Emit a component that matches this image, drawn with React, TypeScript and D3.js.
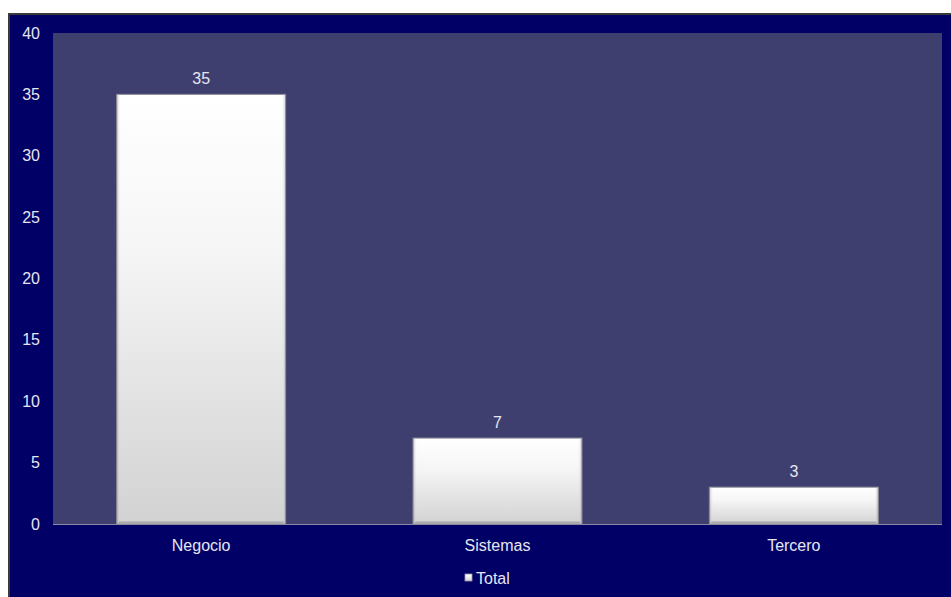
import React from "react";
import * as d3 from "d3";

const categories = ["Negocio", "Sistemas", "Tercero"];
const values = [35, 7, 3];
const yTicks = [0, 5, 10, 15, 20, 25, 30, 35, 40];
const seriesName = "Total";

const W = 951;
const H = 597;
const plot = { left: 53, right: 942, top: 33, bottom: 524 };
const textColor = "#E6E6F0";
const font = "'Liberation Sans', Arial, sans-serif";

export default function App() {
  const x = d3
    .scaleBand<string>()
    .domain(categories)
    .range([plot.left, plot.right])
    .paddingInner(0.43)
    .paddingOuter(0.215);
  const y = d3.scaleLinear().domain([0, 40]).range([plot.bottom, plot.top]);

  return (
    <svg
      width={W}
      height={H}
      style={{ position: "absolute", left: 0, top: 0, display: "block" }}
      fontFamily={font}
    >
      <defs>
        <linearGradient id="barV" x1="0" y1="0" x2="0" y2="1">
          <stop offset="0" stopColor="#FFFFFF" />
          <stop offset="0.35" stopColor="#F6F6F6" />
          <stop offset="1" stopColor="#D2D2D2" />
        </linearGradient>
        <linearGradient id="barH" x1="0" y1="0" x2="1" y2="0">
          <stop offset="0" stopColor="#808080" stopOpacity="0.45" />
          <stop offset="0.025" stopColor="#FFFFFF" stopOpacity="0.0" />
          <stop offset="0.975" stopColor="#FFFFFF" stopOpacity="0.0" />
          <stop offset="1" stopColor="#808080" stopOpacity="0.45" />
        </linearGradient>
      </defs>
      <rect x={0} y={0} width={W} height={H} fill="#FFFFFF" />
      <rect x={9} y={14} width={W} height={H} fill="#000066" stroke="#3a3a3a" strokeWidth={2} />
      <rect
        x={plot.left}
        y={plot.top}
        width={plot.right - plot.left}
        height={plot.bottom - plot.top}
        fill="#3F3F6F"
      />
      <line
        x1={plot.left}
        x2={plot.right}
        y1={plot.bottom + 0.5}
        y2={plot.bottom + 0.5}
        stroke="#8A8AA8"
        strokeWidth={1}
      />
      {yTicks.map((t) => (
        <text
          key={t}
          x={40}
          y={y(t)}
          dy="0.35em"
          textAnchor="end"
          fontSize={16}
          fill={textColor}
        >
          {t}
        </text>
      ))}
      {categories.map((c, i) => {
        const bx = x(c)!;
        const bw = x.bandwidth();
        const by = y(values[i]);
        const bh = plot.bottom - by;
        return (
          <g key={c}>
            <rect x={bx} y={by} width={bw} height={bh} fill="url(#barV)" stroke="#8C8C98" strokeWidth={1} />
            <rect x={bx} y={by} width={bw} height={bh} fill="url(#barH)" />
            <line x1={bx + 2} x2={bx + bw - 2} y1={plot.bottom - 1.5} y2={plot.bottom - 1.5} stroke="#A8A8A8" strokeWidth={2} />
            <text
              x={bx + bw / 2}
              y={by - 16}
              dy="0.35em"
              textAnchor="middle"
              fontSize={16}
              fill={textColor}
            >
              {values[i]}
            </text>
            <text
              x={bx + bw / 2}
              y={545}
              dy="0.35em"
              textAnchor="middle"
              fontSize={16}
              fill={textColor}
            >
              {c}
            </text>
          </g>
        );
      })}
      <rect x={465} y={574} width={7} height={7} fill="url(#barV)" stroke="#9A9AA8" strokeWidth={0.8} />
      <text x={476} y={578} dy="0.35em" fontSize={16} fill={textColor}>
        {seriesName}
      </text>
    </svg>
  );
}
